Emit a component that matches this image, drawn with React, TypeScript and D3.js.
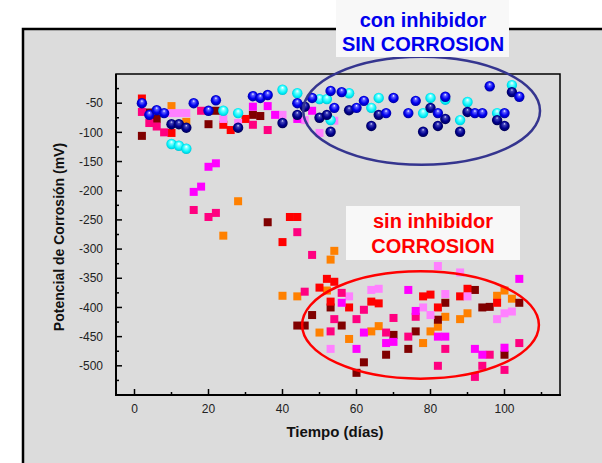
import React from 'react';
import * as d3 from 'd3';

// [dias, mV]
const redSq: [number, number][] = [
  [2, -42], [10, -101], [24, -87], [26, -96], [30, -77], [42, -245], [44, -245], [40, -288],
  [52, -351], [54, -356], [50, -366], [53, -390], [58, -400], [64, -390], [66, -393],
  [78, -381], [80, -378], [82, -400], [88, -381], [90, -368], [98, -392],
];
const maroonSq: [number, number][] = [
  [2, -106], [4, -66], [6, -77], [20, -86], [22, -63], [32, -70], [34, -72], [36, -254],
  [48, -413], [44, -431], [46, -431], [53, -400], [56, -431], [60, -512], [62, -494],
  [68, -481], [70, -447], [74, -471], [76, -441], [82, -421], [84, -392], [92, -370],
  [94, -400], [96, -399], [100, -481], [104, -392],
];
const orangeSq: [number, number][] = [
  [10, -55], [14, -82], [28, -218], [24, -277], [54, -303], [53, -318], [40, -380],
  [44, -381], [52, -371], [50, -443], [58, -454], [64, -441], [66, -432], [78, -461],
  [80, -441], [82, -433], [84, -416], [90, -410], [88, -420], [98, -380], [100, -371], [102, -385],
];
const pinkSq: [number, number][] = [
  [2, -65], [4, -84], [6, -90], [8, -100], [18, -63], [32, -87], [36, -96], [16, -233],
  [20, -245], [22, -238], [44, -271], [48, -310], [46, -373], [56, -375], [54, -420],
  [53, -441], [62, -404], [60, -420], [68, -443], [70, -418], [74, -450], [76, -416],
  [84, -471], [82, -500], [92, -519], [96, -481], [94, -500], [100, -507], [104, -461],
];
const magentaSq: [number, number][] = [
  [16, -202], [18, -193], [20, -159], [22, -153], [36, -55], [38, -70], [32, -56],
  [44, -77], [48, -63], [56, -392], [60, -471], [62, -443], [68, -461], [70, -459],
  [74, -370], [76, -406], [82, -450], [84, -450], [92, -471], [94, -481], [100, -469], [104, -351],
];
const lightSq: [number, number][] = [
  [10, -67], [12, -67], [14, -67], [24, -77], [28, -84], [40, -70], [46, -79], [50, -101],
  [54, -80], [53, -471], [58, -381], [64, -370], [66, -368], [78, -400], [80, -413],
  [84, -377], [82, -329], [88, -340], [90, -381], [98, -420], [100, -410], [102, -407],
];
const blueBall: [number, number][] = [
  [2, -50], [4, -70], [6, -62], [8, -67], [16, -50], [20, -63], [22, -45], [32, -38],
  [34, -41], [36, -36], [44, -50], [48, -41], [53, -29], [54, -58], [56, -31], [60, -58],
  [62, -46], [68, -67], [70, -41], [74, -67], [76, -46], [82, -67], [84, -39], [92, -67],
  [94, -67], [96, -21], [100, -67], [104, -39],
];
const navyBall: [number, number][] = [
  [10, -86], [12, -86], [14, -92], [28, -92], [40, -84], [44, -70], [46, -56], [50, -75],
  [52, -70], [53, -99], [58, -62], [64, -89], [66, -70], [78, -99], [80, -58], [82, -89],
  [84, -77], [88, -99], [90, -65], [98, -79], [100, -89], [102, -31],
];
const cyanBall: [number, number][] = [
  [10, -120], [12, -123], [14, -128], [24, -63], [28, -67], [40, -27], [44, -33], [50, -43],
  [52, -43], [53, -79], [58, -33], [64, -58], [66, -41], [78, -67], [80, -41], [84, -44],
  [88, -79], [90, -48], [98, -67], [102, -19],
];

const xTicks = [0, 20, 40, 60, 80, 100];
const xMinor = [10, 30, 50, 70, 90, 110];
const yTicks = [-50, -100, -150, -200, -250, -300, -350, -400, -450, -500];
const yMinor = [-25, -75, -125, -175, -225, -275, -325, -375, -425, -475, -525];

const squares = [
  { data: orangeSq, color: '#ff8000' },
  { data: maroonSq, color: '#800000' },
  { data: redSq, color: '#ff0000' },
  { data: lightSq, color: '#ff80ff' },
  { data: pinkSq, color: '#ff0080' },
  { data: magentaSq, color: '#ff00ff' },
];
const balls = [
  { data: cyanBall, id: 'gCyan' },
  { data: navyBall, id: 'gNavy' },
  { data: blueBall, id: 'gBlue' },
];

const FONT = '"Liberation Sans", Arial, sans-serif';

export default function App() {
  const left = 116, right = 560, top = 74, bottom = 395;
  const x = d3.scaleLinear().domain([-5, 115]).range([left, right]);
  const y = d3.scaleLinear().domain([-550, 0]).range([bottom, top]);

  const sq = 8;
  const r = 5.2;

  return (
    <svg width={602} height={463} style={{ position: 'absolute', left: 0, top: 0 }}>
      <defs>
        <radialGradient id="gBlue" cx="50%" cy="50%" r="55%" fx="50%" fy="28%">
          <stop offset="0%" stopColor="#ffffff" />
          <stop offset="22%" stopColor="#6060ff" />
          <stop offset="60%" stopColor="#0000f0" />
          <stop offset="100%" stopColor="#000090" />
        </radialGradient>
        <radialGradient id="gNavy" cx="50%" cy="50%" r="55%" fx="50%" fy="28%">
          <stop offset="0%" stopColor="#d8d8ff" />
          <stop offset="22%" stopColor="#4040b8" />
          <stop offset="60%" stopColor="#000090" />
          <stop offset="100%" stopColor="#000048" />
        </radialGradient>
        <radialGradient id="gCyan" cx="50%" cy="50%" r="55%" fx="50%" fy="28%">
          <stop offset="0%" stopColor="#ffffff" />
          <stop offset="30%" stopColor="#70ffff" />
          <stop offset="70%" stopColor="#00f0f8" />
          <stop offset="100%" stopColor="#00b8cc" />
        </radialGradient>
      </defs>

      {/* outer panel */}
      <rect x={23} y={29} width={620} height={460} fill="#dcdcdc" stroke="#000" strokeWidth={2.5} />

      {/* plot frame */}
      <rect x={left} y={top} width={right - left} height={bottom - top} fill="none" stroke="#000" strokeWidth={1.5} />
      <line x1={left} x2={left} y1={top} y2={bottom + 1} stroke="#000" strokeWidth={2} />
      <line x1={left - 1} x2={right + 1} y1={bottom} y2={bottom} stroke="#000" strokeWidth={2} />

      {/* y ticks */}
      {yTicks.map(t => (
        <g key={'y' + t}>
          <line x1={left} x2={left + 6} y1={y(t)} y2={y(t)} stroke="#000" strokeWidth={1.5} />
          <text x={left - 13} y={y(t)} dy="0.35em" textAnchor="end" fontSize={12} fontFamily={FONT} fill="#222">{t}</text>
        </g>
      ))}
      {yMinor.map(t => (
        <line key={'ym' + t} x1={left} x2={left + 3} y1={y(t)} y2={y(t)} stroke="#000" strokeWidth={1.5} />
      ))}

      {/* x ticks */}
      {xTicks.map(t => (
        <g key={'x' + t}>
          <line x1={x(t)} x2={x(t)} y1={bottom} y2={bottom - 6} stroke="#000" strokeWidth={1.5} />
          <text x={x(t)} y={bottom + 18} textAnchor="middle" fontSize={12} fontFamily={FONT} fill="#222">{t}</text>
        </g>
      ))}
      {xMinor.map(t => (
        <line key={'xm' + t} x1={x(t)} x2={x(t)} y1={bottom} y2={bottom - 3} stroke="#000" strokeWidth={1.5} />
      ))}

      {/* axis titles */}
      <text x={335} y={437} textAnchor="middle" fontSize={15} fontWeight="bold" fontFamily={FONT} fill="#111">Tiempo (días)</text>
      <text transform={`translate(64,237) rotate(-90)`} textAnchor="middle" fontSize={14} fontWeight="bold" fontFamily={FONT} fill="#111">
        Potencial de Corrosión (mV)
      </text>

      {/* squares */}
      {squares.map((s, i) => (
        <g key={'s' + i}>
          {s.data.map((d, j) => (
            <rect key={j} x={x(d[0]) - sq / 2} y={y(d[1]) - sq / 2} width={sq} height={sq} fill={s.color} />
          ))}
        </g>
      ))}

      {/* spheres */}
      {balls.map((b, i) => (
        <g key={'b' + i}>
          {b.data.map((d, j) => (
            <circle key={j} cx={x(d[0])} cy={y(d[1])} r={r} fill={`url(#${b.id})`} />
          ))}
        </g>
      ))}

      {/* annotations */}
      <ellipse cx={x(77.6)} cy={y(-63)} rx={x(32) - x(0)} ry={y(-92.5) - y(0)} fill="none" stroke="#35358f" strokeWidth={2.5} />
      <ellipse cx={x(77.3)} cy={y(-430)} rx={x(32) - x(0)} ry={y(-92) - y(0)} fill="none" stroke="#ff0000" strokeWidth={2.5} />

      <rect x={336} y={0} width={173} height={57} fill="#f8f8f8" />
      <text x={423} y={27} textAnchor="middle" fontSize={20} fontWeight="bold" fontFamily={FONT} fill="#0000ee">con inhibidor</text>
      <text x={423} y={51} textAnchor="middle" fontSize={20} fontWeight="bold" fontFamily={FONT} fill="#0000ee">SIN CORROSION</text>

      <rect x={346} y={206} width={174} height={54} fill="#f8f8f8" />
      <text x={433} y={228} textAnchor="middle" fontSize={20} fontWeight="bold" fontFamily={FONT} fill="#ff0000">sin inhibidor</text>
      <text x={433} y={253} textAnchor="middle" fontSize={20} fontWeight="bold" fontFamily={FONT} fill="#ff0000">CORROSION</text>
    </svg>
  );
}
